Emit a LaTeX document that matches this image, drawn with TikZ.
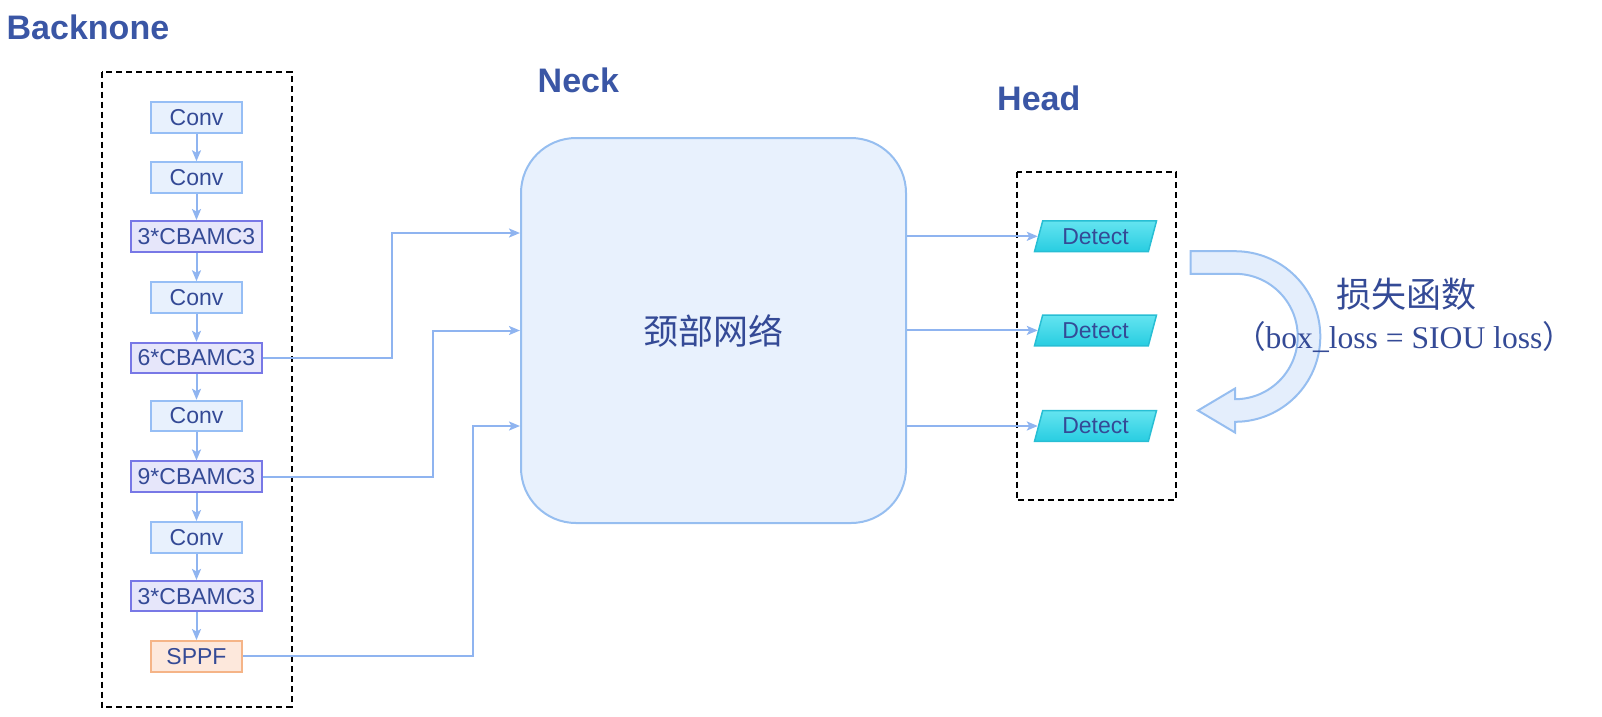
\documentclass[tikz,border=0pt]{standalone}
\usepackage{fontspec}
\setmainfont{Liberation Sans}
\newfontfamily\cjkfont{Noto Sans CJK SC}
\newfontfamily\serifft{Liberation Serif}
\usetikzlibrary{arrows.meta,shapes.geometric,calc}
\definecolor{titleblue}{RGB}{58,86,165}
\definecolor{txtblue}{RGB}{52,74,150}
\definecolor{connblue}{RGB}{143,180,240}
\definecolor{convfill}{RGB}{232,241,253}
\definecolor{convdraw}{RGB}{150,190,245}
\definecolor{cbamfill}{RGB}{230,230,250}
\definecolor{cbamdraw}{RGB}{120,120,230}
\definecolor{sppffill}{RGB}{253,232,220}
\definecolor{sppfdraw}{RGB}{245,180,135}
\definecolor{neckfill}{RGB}{232,241,253}
\definecolor{neckdraw}{RGB}{150,190,240}
\definecolor{dettop}{RGB}{100,228,240}
\definecolor{detbot}{RGB}{40,205,225}
\definecolor{detdraw}{RGB}{40,190,212}
\definecolor{curvfill}{RGB}{228,238,252}
\definecolor{curvdraw}{RGB}{150,190,240}
\begin{document}
\begin{tikzpicture}[x=1pt,y=-1pt,
  title/.style={font=\bfseries\fontsize{34}{40}\selectfont, text=titleblue, inner sep=0pt},
  boxlbl/.style={font=\fontsize{23}{27}\selectfont, text=txtblue, inner sep=0pt, minimum height=30.5pt, line width=2pt},
  convbox/.style={boxlbl, draw=convdraw, fill=convfill, minimum width=91pt},
  cbambox/.style={boxlbl, draw=cbamdraw, fill=cbamfill, minimum width=131pt},
  sppfbox/.style={boxlbl, draw=sppfdraw, fill=sppffill, minimum width=91pt},
  dashbox/.style={draw=black, line width=2pt, dash pattern=on 6pt off 4pt},
  conn/.style={draw=connblue, line width=2pt, -{Stealth[length=11pt,width=9pt,inset=2.5pt]}},
  neckbox/.style={draw=neckdraw, fill=neckfill, line width=2pt, rounded corners=55pt, minimum width=385pt, minimum height=385pt, font=\cjkfont\fontsize{35}{40}\selectfont, text=txtblue},
  detbox/.style={shape=trapezium, trapezium left angle=63, trapezium right angle=117, trapezium stretches body, minimum width=122pt, minimum height=30.7pt, inner sep=0pt, draw=detdraw, line width=1.5pt, top color=dettop, bottom color=detbot, font=\fontsize{23}{27}\selectfont, text=txtblue},
  curv/.style={draw=curvdraw, fill=curvfill, line width=2pt, line join=miter},
  losstxt/.style={text=txtblue, inner sep=0pt}
]
\useasboundingbox (0,0) rectangle (1602,716);

% titles
\node[title, anchor=base west] (tback) at (6.5,39.3) {Backnone};
\node[title, anchor=base west] (tneck) at (537.5,92) {Neck};
\node[title, anchor=base west] (thead) at (997,110) {Head};

% dashed groups
\draw[dashbox] (101.7,71.7) rectangle (291.5,707);
\draw[dashbox] (1016.7,171.7) rectangle (1176,500);

% backbone
\node[convbox] (b1) at (196.5,117.5) {Conv};
\node[convbox] (b2) at (196.5,177.5) {Conv};
\node[cbambox] (b3) at (196.5,236.3) {3*CBAMC3};
\node[convbox] (b4) at (196.5,297.5) {Conv};
\node[cbambox] (b5) at (196.5,358) {6*CBAMC3};
\node[convbox] (b6) at (196.5,416) {Conv};
\node[cbambox] (b7) at (196.5,476.7) {9*CBAMC3};
\node[convbox] (b8) at (196.5,537.3) {Conv};
\node[cbambox] (b9) at (196.5,596.2) {3*CBAMC3};
\node[sppfbox] (b10) at (196.5,656.3) {SPPF};
\foreach \a/\b in {b1/b2,b2/b3,b3/b4,b4/b5,b5/b6,b6/b7,b7/b8,b8/b9,b9/b10}
  \draw[conn] (\a.south) -- (\b.north);

% neck
\node[neckbox] (neck) at (713.5,330.5) {颈部网络};

\draw[conn] (b5.east) -- ++(129,0) |- ($(neck.west)+(0,-97.5)$);
\draw[conn] (b7.east) -- ++(170,0) |- (neck.west);
\draw[conn] (b10.east) -- ++(230,0) |- ($(neck.west)+(0,95.5)$);

% head
\node[detbox] (d1) at (1095.5,236.3) {Detect};
\node[detbox] (d2) at (1095.5,330.4) {Detect};
\node[detbox] (d3) at (1095.5,426) {Detect};
\draw[conn] (neck.east |- d1.left side) -- (d1.left side);
\draw[conn] (neck.east |- d2.left side) -- (d2.left side);
\draw[conn] (neck.east |- d3.left side) -- (d3.left side);

% curved loss arrow
\path[curv] (1190.7,251.2) -- (1235,251.2)
  .. controls (1282.1,251.2) and (1320.3,289.4) .. (1320.3,336.5)
  .. controls (1320.3,383.6) and (1282.1,421.8) .. (1235,421.8)
  -- (1235,432.5) -- (1198,410.5) -- (1235,388.5) -- (1235,399.2)
  .. controls (1269.6,399.2) and (1297.7,371.1) .. (1297.7,336.5)
  .. controls (1297.7,301.9) and (1269.6,273.8) .. (1235,273.8)
  -- (1190.7,273.8) -- cycle;

\node[losstxt, anchor=base] (loss1) at (1406,307.5) {\cjkfont\fontsize{35}{40}\selectfont 损失函数};
\node[losstxt, anchor=base] (loss2) at (1404,348.3) {\fontsize{31.6}{36}\selectfont\cjkfont （\serifft box\_loss = SIOU loss\cjkfont ）};
\end{tikzpicture}
\end{document}
